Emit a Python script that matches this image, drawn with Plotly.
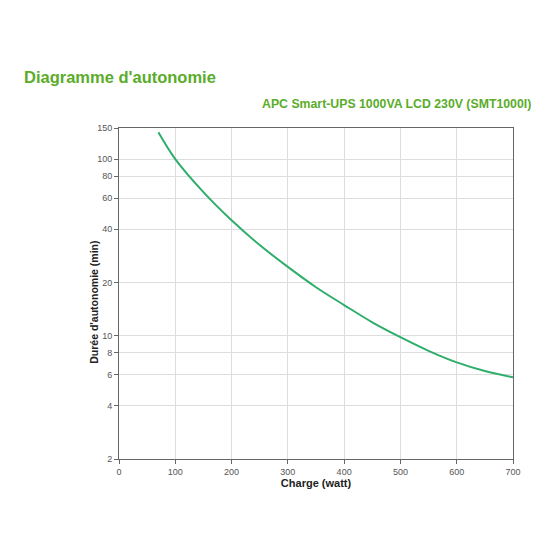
import plotly.graph_objects as go

watts = [70, 100, 150, 200, 250, 300, 350, 400, 450, 500, 550, 600, 650, 700]
minutes = [142, 100, 65, 45, 32.6, 24.5, 18.8, 14.9, 11.9, 9.8, 8.2, 7.05, 6.3, 5.8]

x_ticks = [0, 100, 200, 300, 400, 500, 600, 700]
y_ticks = [2, 4, 6, 8, 10, 20, 40, 60, 80, 100, 150]

title = "Diagramme d'autonomie"
subtitle = "APC Smart-UPS 1000VA LCD 230V (SMT1000I)"
x_title = "Charge (watt)"
y_title = "Durée d'autonomie (min)"

green = "#5aac2a"
line_green = "#2fae6b"
font_family = "Liberation Sans, Arial"

fig = go.Figure()
fig.add_trace(go.Scatter(
    x=watts, y=minutes, mode="lines",
    line=dict(color=line_green, width=2, shape="spline", smoothing=1.0),
    hoverinfo="skip", showlegend=False,
))

axis_common = dict(
    showline=True, linecolor="#666666", linewidth=1, mirror=True,
    showgrid=True, gridcolor="#dddddd", gridwidth=1,
    ticks="outside", ticklen=4, tickcolor="#666666",
    tickfont=dict(family=font_family, size=9, color="#555555"),
    zeroline=False,
)

fig.update_xaxes(
    range=[0, 700], tickvals=x_ticks, ticktext=[str(v) for v in x_ticks],
    title=dict(text="<b>" + x_title + "</b>", standoff=3,
               font=dict(family=font_family, size=11, color="#222222")),
    **axis_common,
)
fig.update_yaxes(
    type="log", range=[0.30103, 2.17609],
    tickvals=y_ticks, ticktext=[str(v) for v in y_ticks],
    **axis_common,
)

fig.add_annotation(
    text="<b>" + y_title + "</b>", xref="paper", yref="paper",
    x=-0.0635, y=0.475, xanchor="center", yanchor="middle", showarrow=False,
    textangle=-90,
    font=dict(family=font_family, size=10.5, color="#222222"),
)
fig.add_annotation(
    text="<b>" + title + "</b>", xref="paper", yref="paper",
    x=-0.246, y=1.154, xanchor="left", yanchor="middle", showarrow=False,
    font=dict(family=font_family, size=16.5, color=green),
)
fig.add_annotation(
    text="<b>" + subtitle + "</b>", xref="paper", yref="paper",
    x=1.051, y=1.0725, xanchor="right", yanchor="middle", showarrow=False,
    font=dict(family=font_family, size=12.3, color=green),
)

fig.update_layout(
    width=552, height=552,
    margin=dict(l=111, r=47, t=120, b=101),
    paper_bgcolor="white", plot_bgcolor="white",
)

fig.write_html("out.html")
